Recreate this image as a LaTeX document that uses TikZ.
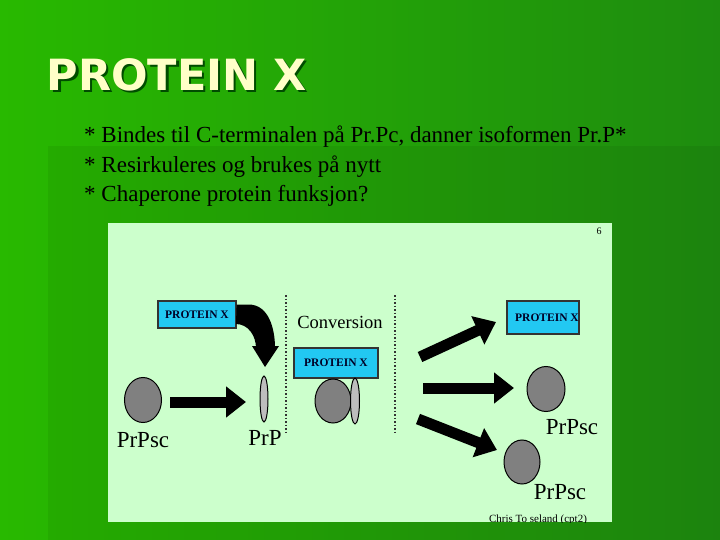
\documentclass[tikz,border=0pt]{standalone}
\usepackage{fontspec}
\setmainfont{Liberation Serif}
\newfontfamily\titlefont{DejaVu Sans}
\usetikzlibrary{arrows.meta,shapes.geometric}
\begin{document}
\begin{tikzpicture}[x=1pt,y=-1pt,
  pbox/.style={draw=black!80,line width=1.2pt,fill=boxcyan,inner sep=0pt,font=\bfseries\fontsize{11.5}{12}\selectfont,text=black!85!blue},
  blob/.style={ellipse,draw=black,line width=1pt,fill=blobgray,inner sep=0pt},
  thin/.style={ellipse,draw=black,line width=1pt,fill=thingray,inner sep=0pt,minimum width=8pt,minimum height=46pt},
  lab/.style={font=\fontsize{23}{24}\selectfont},
  fat/.style={line width=11pt,-{Triangle[length=20pt,width=30pt]}},
  dots/.style={dotted,line width=1.5pt,black!80}]
\definecolor{boxcyan}{HTML}{22C8F2}
\definecolor{blobgray}{HTML}{808080}
\definecolor{thingray}{HTML}{BDBDBD}
\definecolor{panel}{HTML}{CCFFCC}
\useasboundingbox (0,0) rectangle (720,540);
\shade[left color={rgb,255:red,40;green,185;blue,0},right color={rgb,255:red,30;green,140;blue,15}] (0,0) rectangle (720,540);
\fill[black,opacity=0.06] (48,146) rectangle (720,540);
% title
\node[anchor=west,font=\titlefont\bfseries\fontsize{43}{43}\selectfont,text=black!70!green] (tsh) at (45.5,77) {PROTEIN X};
\node[anchor=west,font=\titlefont\bfseries\fontsize{43}{43}\selectfont,text={rgb,255:red,255;green,255;blue,200}] (title) at (43,75) {PROTEIN X};
\node[anchor=north west,align=left,font=\fontsize{23}{29.5}\selectfont,inner sep=0pt] (bul) at (84,126) {* Bindes til C-terminalen på Pr.Pc, danner isoformen Pr.P*\\* Resirkuleres og brukes på nytt\\* Chaperone protein funksjon?};
% panel
\fill[panel] (108,223) rectangle (612,522);
\node[font=\fontsize{10}{10}\selectfont] (num) at (599,231) {6};
\begin{scope}
\clip (108,223) rectangle (612,522);
\node[font=\fontsize{11}{11}\selectfont] (cred) at (538,520) {Chris To seland (cpt2)};
\end{scope}
\draw[dots] (286,295) -- (286,433);
\draw[dots] (395,295) -- (395,433);
% left
\node[blob,minimum width=37pt,minimum height=45pt] (s1) at (143,400) {};
\node[lab] (l1) at (143,440) {PrPsc};
\node[thin] (p1) at (264,399) {};
\node[lab] (l2) at (265,438) {PrP};
\coordinate (a1s) at (170,402); \coordinate (a1e) at (246,402);
\draw[fat] (a1s) -- (a1e);
\node[pbox,minimum width=78pt,minimum height=27pt] (x1) at (197,314.5) {PROTEIN X};
\fill (x1.east)++(0,-10) -- ++(12,0) to[out=0,in=90] (275,348) -- (256,348) to[out=90,in=0] (236,324) -- cycle;
\fill (252,346) -- (279,346) -- (265,367) -- cycle;
% center
\node[font=\fontsize{18.5}{19}\selectfont] (conv) at (340,322) {Conversion};
\node[pbox,minimum width=84pt,minimum height=30pt] (x2) at (336,363) {PROTEIN X};
\node[blob,minimum width=36pt,minimum height=44pt] (s2) at (333,401) {};
\node[thin,minimum width=9pt] (p2) at (355,401) {};
% right
\node[pbox,minimum width=72pt,minimum height=33pt] (x3) at (543,317.5) {\hspace*{8pt}PROTEIN X};
\node[blob,minimum width=38pt,minimum height=45pt] (s3) at (546,389) {};
\node[lab] (l3) at (572,427) {PrPsc};
\node[blob,minimum width=36pt,minimum height=44pt] (s4) at (522,462) {};
\node[lab] (l4) at (560,492) {PrPsc};
\coordinate (r1s) at (420,357); \coordinate (r1e) at (496,322);
\coordinate (r2s) at (423,388); \coordinate (r2e) at (514,388);
\coordinate (r3s) at (418,419); \coordinate (r3e) at (497,450);
\draw[fat] (r1s) -- (r1e);
\draw[fat] (r2s) -- (r2e);
\draw[fat] (r3s) -- (r3e);
\end{tikzpicture}
\end{document}
